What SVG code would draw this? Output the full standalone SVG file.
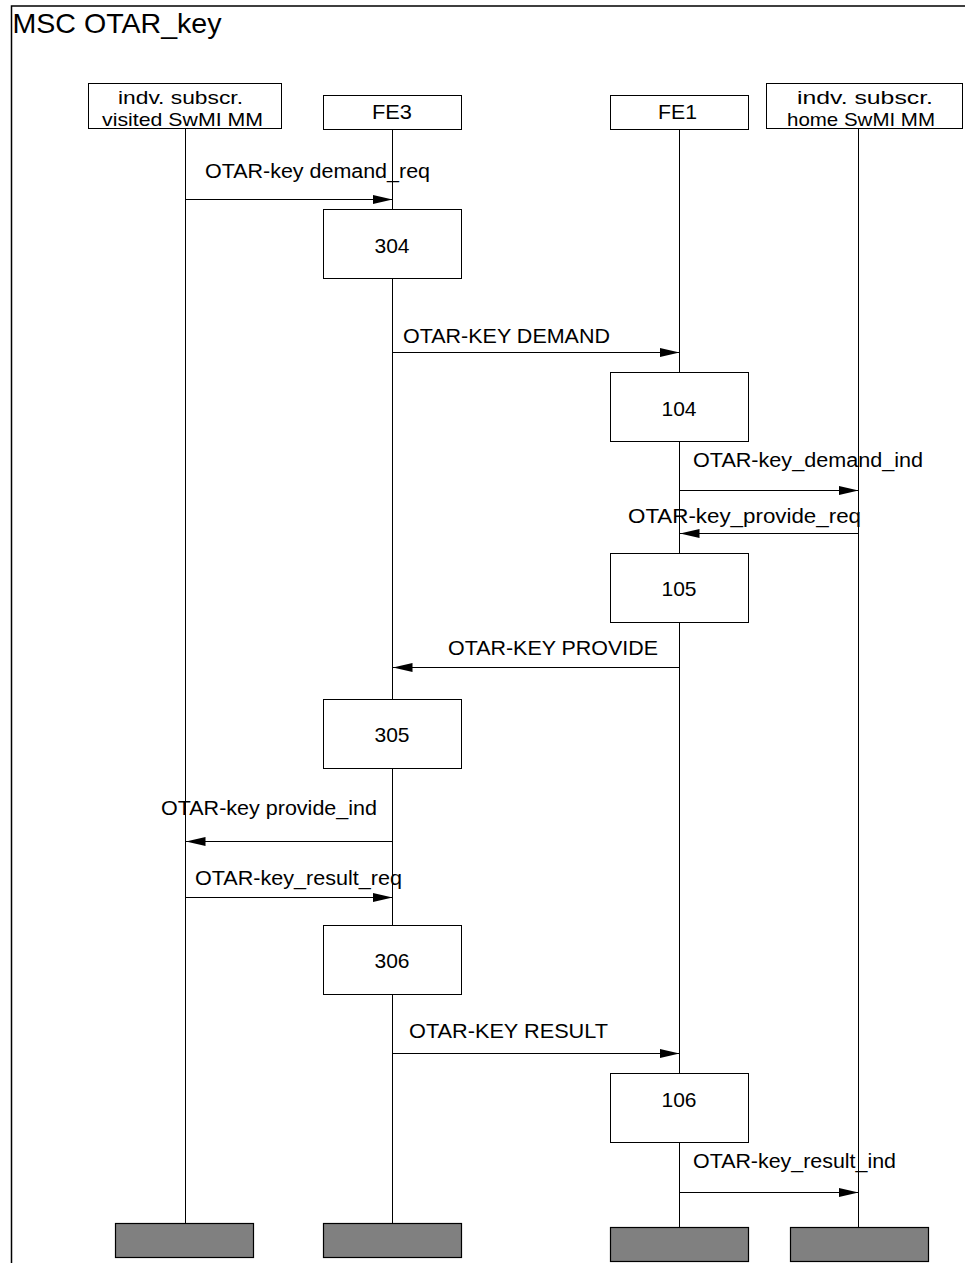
<svg xmlns="http://www.w3.org/2000/svg" width="965" height="1263" viewBox="0 0 965 1263">
<style>
  text { font-family: "Liberation Sans", Arial, sans-serif; fill: #000; }
  .lbl { font-size: 20px; }
  .num { font-size: 21px; }
  .hdr { font-size: 19px; }
  .box { fill: #fff; stroke: #000; stroke-width: 1; }
  .end { fill: #808080; stroke: #000; stroke-width: 1.2; }
  .life { stroke: #000; stroke-width: 1; fill: none; }
  .msg { stroke: #000; stroke-width: 1; fill: none; marker-end: url(#arr); }
</style>
<defs>
  <marker id="arr" markerUnits="userSpaceOnUse" markerWidth="20" markerHeight="10" refX="20" refY="5" orient="auto" viewBox="0 0 20 10">
    <path d="M0,0.5 L20,5 L0,9.5 z" fill="#000"/>
  </marker>
</defs>
<rect width="965" height="1263" fill="#fff"/>
<g id="frame">
  <path d="M11.5,1263 V6 H966" fill="none" stroke="#000" stroke-width="1.5"/>
  <text x="12.5" y="33" font-size="28" textLength="209" lengthAdjust="spacingAndGlyphs">MSC OTAR_key</text>
</g>
<g id="lifelines">
  <line class="life" x1="185.5" y1="128" x2="185.5" y2="1223"/>
  <line class="life" x1="392.5" y1="129" x2="392.5" y2="1223"/>
  <line class="life" x1="679.5" y1="129" x2="679.5" y2="1227"/>
  <line class="life" x1="858.5" y1="129" x2="858.5" y2="1227"/>
</g>
<g id="inst-visited">
  <rect class="box" x="88.5" y="83.5" width="193" height="45"/>
  <text class="hdr" x="118" y="104" textLength="125" lengthAdjust="spacingAndGlyphs">indv. subscr.</text>
  <text class="hdr" x="102" y="126" textLength="161" lengthAdjust="spacingAndGlyphs">visited SwMI MM</text>
</g>
<g id="inst-fe3">
  <rect class="box" x="323.5" y="95.5" width="138" height="34"/>
  <text class="lbl" x="372" y="119" textLength="40" lengthAdjust="spacingAndGlyphs">FE3</text>
</g>
<g id="inst-fe1">
  <rect class="box" x="610.5" y="95.5" width="138" height="34"/>
  <text class="lbl" x="658" y="119" textLength="39" lengthAdjust="spacingAndGlyphs">FE1</text>
</g>
<g id="inst-home">
  <rect class="box" x="766.5" y="83.5" width="196" height="45"/>
  <text class="hdr" x="797" y="104" textLength="136" lengthAdjust="spacingAndGlyphs">indv. subscr.</text>
  <text class="hdr" x="787" y="126" textLength="148" lengthAdjust="spacingAndGlyphs">home SwMI MM</text>
</g>
<g id="act-304">
  <rect class="box" x="323.5" y="209.5" width="138" height="69"/>
  <text class="num" x="392" y="253" text-anchor="middle">304</text>
</g>
<g id="act-104">
  <rect class="box" x="610.5" y="372.5" width="138" height="69"/>
  <text class="num" x="679" y="416" text-anchor="middle">104</text>
</g>
<g id="act-105">
  <rect class="box" x="610.5" y="553.5" width="138" height="69"/>
  <text class="num" x="679" y="596" text-anchor="middle">105</text>
</g>
<g id="act-305">
  <rect class="box" x="323.5" y="699.5" width="138" height="69"/>
  <text class="num" x="392" y="742" text-anchor="middle">305</text>
</g>
<g id="act-306">
  <rect class="box" x="323.5" y="925.5" width="138" height="69"/>
  <text class="num" x="392" y="968" text-anchor="middle">306</text>
</g>
<g id="act-106">
  <rect class="box" x="610.5" y="1073.5" width="138" height="69"/>
  <text class="num" x="679" y="1107" text-anchor="middle">106</text>
</g>
<g id="end-visited"><rect class="end" x="115.5" y="1223.5" width="138" height="34"/></g>
<g id="end-fe3"><rect class="end" x="323.5" y="1223.5" width="138" height="34"/></g>
<g id="end-fe1"><rect class="end" x="610.5" y="1227.5" width="138" height="34"/></g>
<g id="end-home"><rect class="end" x="790.5" y="1227.5" width="138" height="34"/></g>
<g id="connectors">
  <line class="msg" x1="185.5" y1="199.5" x2="392.5" y2="199.5"/>
  <text class="lbl" x="205" y="178" textLength="225" lengthAdjust="spacingAndGlyphs">OTAR-key demand_req</text>
  <line class="msg" x1="392.5" y1="352.5" x2="679.5" y2="352.5"/>
  <text class="lbl" x="403" y="343" textLength="207" lengthAdjust="spacingAndGlyphs">OTAR-KEY DEMAND</text>
  <line class="msg" x1="679.5" y1="490.5" x2="858.5" y2="490.5"/>
  <text class="lbl" x="693" y="467" textLength="230" lengthAdjust="spacingAndGlyphs">OTAR-key_demand_ind</text>
  <line class="msg" x1="858.5" y1="533.5" x2="679.5" y2="533.5"/>
  <text class="lbl" x="628" y="523" textLength="233" lengthAdjust="spacingAndGlyphs">OTAR-key_provide_req</text>
  <line class="msg" x1="679.5" y1="667.5" x2="392.5" y2="667.5"/>
  <text class="lbl" x="448" y="655" textLength="210" lengthAdjust="spacingAndGlyphs">OTAR-KEY PROVIDE</text>
  <line class="msg" x1="392.5" y1="841.5" x2="185.5" y2="841.5"/>
  <text class="lbl" x="161" y="815" textLength="216" lengthAdjust="spacingAndGlyphs">OTAR-key provide_ind</text>
  <line class="msg" x1="185.5" y1="897.5" x2="392.5" y2="897.5"/>
  <text class="lbl" x="195" y="885" textLength="207" lengthAdjust="spacingAndGlyphs">OTAR-key_result_req</text>
  <line class="msg" x1="392.5" y1="1053.5" x2="679.5" y2="1053.5"/>
  <text class="lbl" x="409" y="1038" textLength="199" lengthAdjust="spacingAndGlyphs">OTAR-KEY RESULT</text>
  <line class="msg" x1="679.5" y1="1192.5" x2="858.5" y2="1192.5"/>
  <text class="lbl" x="693" y="1168" textLength="203" lengthAdjust="spacingAndGlyphs">OTAR-key_result_ind</text>
</g>
</svg>
